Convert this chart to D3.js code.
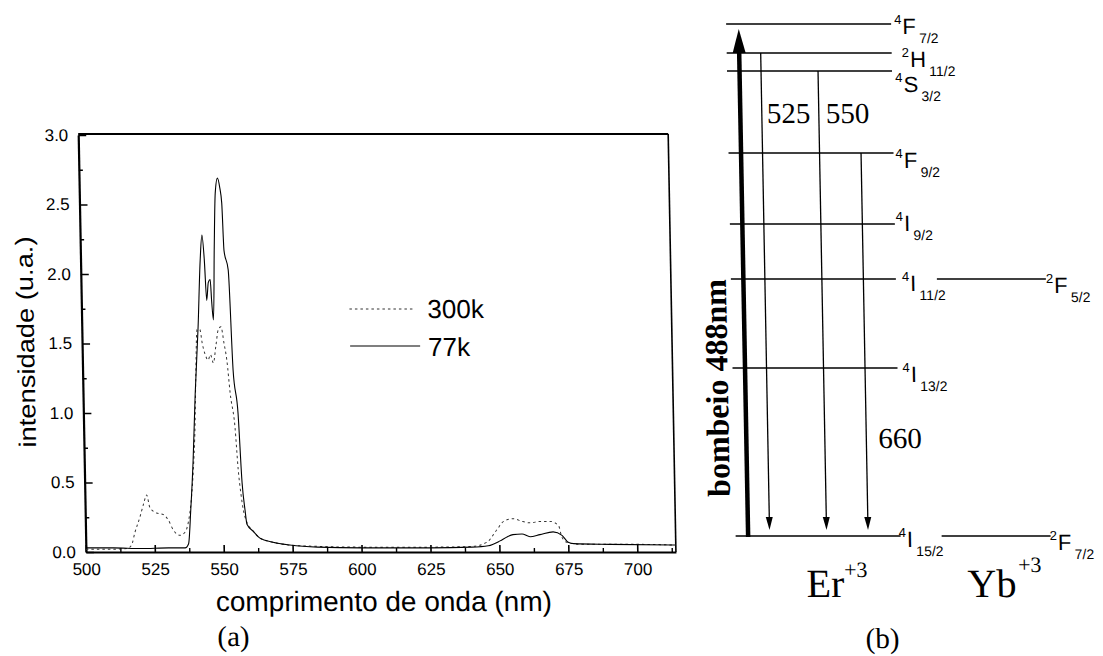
<!DOCTYPE html>
<html>
<head>
<meta charset="utf-8">
<script src="https://cdn.jsdelivr.net/npm/d3@7"></script>
<style>
  body { margin: 0; background: #fff; }
  svg { display: block; }
</style>
</head>
<body>
<svg id="fig" width="1103" height="656"></svg>
<script>
// ---- spectrum (a) ----
const nm300 = [500, 510, 515, 516.6, 517.9, 519.8, 521.3, 522.4, 523.5, 525.9, 528.3, 530.1, 531.8, 534.2, 536.0,
  537.3, 538.8, 539.5, 540.4, 541.0, 541.8, 542.8, 543.6, 544.6, 545.6, 546.5, 547.5, 548.5, 549.5, 550.5,
  551.5, 552.4, 553.4, 554.9, 555.8, 556.6, 557.4, 558.3, 560.8, 563.2, 568, 574, 585, 600, 625,
  640, 645.5, 649.2, 651.7, 655.3, 658.4, 661.3, 665.0, 668.6, 671.6, 672.7, 674.5, 680, 700, 714];
const val300 = [0.02, 0.02, 0.025, 0.05, 0.14, 0.25, 0.35, 0.41, 0.32, 0.28, 0.27, 0.23, 0.16, 0.12, 0.14,
  0.21, 0.42, 0.59, 0.9, 1.25, 1.6, 1.6, 1.5, 1.42, 1.38, 1.42, 1.36, 1.48, 1.6, 1.62,
  1.5, 1.38, 1.14, 0.9, 0.59, 0.42, 0.3, 0.23, 0.15, 0.1, 0.07, 0.05, 0.04, 0.035, 0.035,
  0.04, 0.07, 0.16, 0.22, 0.24, 0.22, 0.21, 0.22, 0.22, 0.19, 0.11, 0.07, 0.055, 0.055, 0.05];

const nm77 = [500, 510, 520, 530, 536, 537.3, 538.3, 539.5, 540.7, 542.2, 543.4, 544.2, 544.9, 545.5, 546.2,
  546.9, 547.3, 547.8, 548.6, 549.3, 550.2, 551.0, 551.6, 552.1, 553.5, 554.6, 556.1, 557.1, 558.0, 558.6,
  560.8, 563.2, 567.9, 574, 584, 600, 625, 640, 646, 650.3, 653, 655, 658.3, 661.2, 664.8,
  669.6, 672.8, 675, 677, 690, 714];
const val77 = [0.03, 0.03, 0.025, 0.03, 0.03, 0.06, 0.3, 0.66, 1.14, 1.62, 2.1, 2.28, 2.1, 1.81, 1.94,
  1.96, 1.8, 1.67, 2.2, 2.58, 2.69, 2.62, 2.51, 2.17, 2.03, 1.31, 1.0, 0.5, 0.3, 0.2,
  0.15, 0.1, 0.07, 0.05, 0.035, 0.03, 0.03, 0.035, 0.045, 0.08, 0.11, 0.125, 0.13, 0.11, 0.125,
  0.145, 0.12, 0.07, 0.06, 0.055, 0.05];

const xTicks = [500, 525, 550, 575, 600, 625, 650, 675, 700];
const xMinor = [512.5, 537.5, 562.5, 587.5, 612.5, 637.5, 662.5, 687.5, 712.5];
const yTicks = [0, 0.5, 1.0, 1.5, 2.0, 2.5, 3.0];
const yMinor = [0.25, 0.75, 1.25, 1.75, 2.25, 2.75];
const legendLabels = ["300k", "77k"];

// ---- energy diagram (b) ----
const erLevels = ["4F7/2", "2H11/2", "4S3/2", "4F9/2", "4I9/2", "4I11/2", "4I13/2", "4I15/2"];
const erEnergy = [20320, 19170, 18450, 15200, 12380, 10200, 6670, 0];   // cm^-1
const ybLevels = ["2F5/2", "2F7/2"];
const ybEnergy = [10200, 0];
const emissionLabels = ["525", "550", "660"];
const emissionFrom = ["2H11/2", "4S3/2", "4F9/2"];

const svg = d3.select("#fig");
// the scanned figure is slightly sheared
const root = svg.append("g")
  .attr("transform", "translate(0,340) skewX(1.06) translate(0,-340)");

const sans = "'Liberation Sans', Arial, sans-serif";
const serif = "'Liberation Serif', 'Times New Roman', serif";

// ===== (a) spectrum =====
const x = d3.scaleLinear().domain([500, 714]).range([82, 672]);
const y = d3.scaleLinear().domain([0, 3]).range([552, 135]);

const chart = root.append("g");

const xAxis = d3.axisBottom(x).tickValues(xTicks).tickFormat(d3.format("d"))
  .tickSizeInner(-7).tickSizeOuter(0).tickPadding(11);
const gx = chart.append("g").attr("transform", `translate(0,${y(0)})`).call(xAxis);
gx.select(".domain").attr("stroke-width", 2.2);
gx.selectAll(".tick line").attr("stroke-width", 1.6);
gx.selectAll("text").attr("font-family", sans).attr("font-size", 17).attr("fill", "#000");

chart.append("g").attr("transform", `translate(0,${y(0)})`)
  .call(d3.axisBottom(x).tickValues(xMinor).tickFormat("").tickSizeInner(-4).tickSizeOuter(0))
  .call(g => g.select(".domain").remove())
  .selectAll(".tick line").attr("stroke-width", 1.4);

const yAxis = d3.axisLeft(y).tickValues(yTicks).tickFormat(d3.format(".1f"))
  .tickSizeInner(-8).tickSizeOuter(0).tickPadding(10);
const gy = chart.append("g").attr("transform", `translate(${x(500)},0)`).call(yAxis);
gy.select(".domain").attr("stroke-width", 2.2);
gy.selectAll(".tick line").attr("stroke-width", 1.6);
gy.selectAll("text").attr("font-family", sans).attr("font-size", 17).attr("fill", "#000");

chart.append("g").attr("transform", `translate(${x(500)},0)`)
  .call(d3.axisLeft(y).tickValues(yMinor).tickFormat("").tickSizeInner(-4).tickSizeOuter(0))
  .call(g => g.select(".domain").remove())
  .selectAll(".tick line").attr("stroke-width", 1.4);

// top and right frame
chart.append("line").attr("x1", x(500)).attr("x2", x(714)).attr("y1", y(3) - 1).attr("y2", y(3) - 1)
  .attr("stroke", "#000").attr("stroke-width", 2);
chart.append("line").attr("x1", x(714)).attr("x2", x(714)).attr("y1", y(3) - 1).attr("y2", y(0))
  .attr("stroke", "#000").attr("stroke-width", 1.6);

const line = d3.line().x(d => x(d[0])).y(d => y(d[1])).curve(d3.curveMonotoneX);

chart.append("path")
  .datum(d3.zip(nm300, val300))
  .attr("d", line)
  .attr("fill", "none").attr("stroke", "#333").attr("stroke-width", 1)
  .attr("stroke-dasharray", "2.5,3");

chart.append("path")
  .datum(d3.zip(nm77, val77))
  .attr("d", line)
  .attr("fill", "none").attr("stroke", "#000").attr("stroke-width", 1.1);

// legend
const legend = chart.append("g");
legend.append("line").attr("x1", 350).attr("x2", 415).attr("y1", 309).attr("y2", 309)
  .attr("stroke", "#333").attr("stroke-dasharray", "2.5,3");
legend.append("line").attr("x1", 350).attr("x2", 420).attr("y1", 346).attr("y2", 346)
  .attr("stroke", "#000").attr("stroke-width", 1.1);
legend.selectAll("text.leg").data(legendLabels).enter().append("text")
  .attr("class", "leg")
  .attr("x", 428).attr("y", (d, i) => 318 + i * 38)
  .attr("font-family", sans).attr("font-size", 26)
  .text(d => d);

chart.append("text")
  .attr("x", 379).attr("y", 611).attr("text-anchor", "middle")
  .attr("font-family", sans).attr("font-size", 28)
  .text("comprimento de onda (nm)");

chart.append("text")
  .attr("transform", "translate(34,342) rotate(-90)")
  .attr("text-anchor", "middle")
  .attr("font-family", sans).attr("font-size", 24)
  .attr("textLength", 211).attr("lengthAdjust", "spacingAndGlyphs")
  .text("intensidade (u.a.)");

chart.append("text")
  .attr("x", 228).attr("y", 646).attr("text-anchor", "middle")
  .attr("font-family", serif).attr("font-size", 29)
  .text("(a)");

// ===== (b) energy diagram =====
const yE = d3.scaleLinear().domain([0, 20320]).range([536, 24]);
const diag = root.append("g");
const erX0 = 732, erX1 = 897, ybX0 = 938, ybX1 = 1047;
const pumpX = 744.5;
const emissionX = [766, 823, 864.5];
const labelDx = {"4F7/2": 3, "2H11/2": 10, "4S3/2": 3, "4F9/2": 2, "4I9/2": 1, "4I11/2": 6,
  "4I13/2": 5, "4I15/2": -2, "2F5/2": 0, "2F7/2": -1};
const labelDy = {"4F7/2": 10, "2H11/2": 14, "4S3/2": 21, "4F9/2": 15, "4I9/2": 7, "4I11/2": 12,
  "4I13/2": 14, "4I15/2": 11, "2F5/2": 14, "2F7/2": 14};

const erMap = {};
erLevels.forEach((n, i) => erMap[n] = erEnergy[i]);

diag.selectAll("line.er").data(erLevels).enter().append("line")
  .attr("class", "er")
  .attr("x1", erX0).attr("x2", erX1)
  .attr("y1", (d, i) => yE(erEnergy[i])).attr("y2", (d, i) => yE(erEnergy[i]))
  .attr("stroke", "#000").attr("stroke-width", 1.5);

diag.selectAll("line.yb").data(ybLevels).enter().append("line")
  .attr("class", "yb")
  .attr("x1", ybX0).attr("x2", ybX1)
  .attr("y1", (d, i) => yE(ybEnergy[i])).attr("y2", (d, i) => yE(ybEnergy[i]))
  .attr("stroke", "#000").attr("stroke-width", 1.5);

function levelLabel(name, xEnd, energy) {
  const t = diag.append("text")
    .attr("x", xEnd + labelDx[name])
    .attr("y", yE(energy) + labelDy[name])
    .attr("font-family", sans);
  t.append("tspan").attr("font-size", 13).attr("dy", -10).text(name[0]);
  t.append("tspan").attr("font-size", 22).attr("dy", 10).attr("dx", 1).text(name[1]);
  t.append("tspan").attr("font-size", 14).attr("dy", 9).attr("dx", 3).text(name.slice(2));
}
erLevels.forEach((n, i) => levelLabel(n, erX1, erEnergy[i]));
ybLevels.forEach((n, i) => levelLabel(n, ybX1, ybEnergy[i]));

// pump arrow
const pumpTip = yE(erEnergy[0]) + 5;
diag.append("line")
  .attr("x1", pumpX).attr("x2", pumpX).attr("y1", yE(0) + 1).attr("y2", pumpTip + 18)
  .attr("stroke", "#000").attr("stroke-width", 4.5);
diag.append("path")
  .attr("d", `M${pumpX},${pumpTip} L${pumpX - 6.5},${pumpTip + 24} L${pumpX + 6.5},${pumpTip + 24} Z`)
  .attr("fill", "#000");

// emission arrows
emissionLabels.forEach((lab, i) => {
  const xa = emissionX[i];
  const y0 = yE(erMap[emissionFrom[i]]);
  const tip = yE(0) - 6;
  diag.append("line")
    .attr("x1", xa).attr("x2", xa).attr("y1", y0).attr("y2", tip - 6)
    .attr("stroke", "#000").attr("stroke-width", 1.3);
  diag.append("path")
    .attr("d", `M${xa},${tip} L${xa - 3.5},${tip - 13} L${xa + 3.5},${tip - 13} Z`)
    .attr("fill", "#000");
});

diag.append("text").attr("x", emissionX[0] + 5).attr("y", 123)
  .attr("font-family", serif).attr("font-size", 29).text(emissionLabels[0]);
diag.append("text").attr("x", emissionX[1] + 7).attr("y", 123)
  .attr("font-family", serif).attr("font-size", 29).text(emissionLabels[1]);
diag.append("text").attr("x", emissionX[2] + 12).attr("y", 448)
  .attr("font-family", serif).attr("font-size", 29).text(emissionLabels[2]);

diag.append("text")
  .attr("transform", "translate(727,388) rotate(-90)")
  .attr("text-anchor", "middle")
  .attr("font-family", serif).attr("font-weight", "bold").attr("font-size", 32)
  .text("bombeio 488nm");

const er = diag.append("text").attr("x", 802).attr("y", 597)
  .attr("font-family", serif).attr("font-size", 40);
er.append("tspan").text("Er");
er.append("tspan").attr("font-size", 22).attr("dy", -20).text("+3");

const yb = diag.append("text").attr("x", 963).attr("y", 597)
  .attr("font-family", serif).attr("font-size", 40);
yb.append("tspan").text("Yb");
yb.append("tspan").attr("font-size", 22).attr("dy", -25).attr("dx", 2).text("+3");

diag.append("text")
  .attr("x", 877).attr("y", 648).attr("text-anchor", "middle")
  .attr("font-family", serif).attr("font-size", 29)
  .text("(b)");
</script>
</body>
</html>
